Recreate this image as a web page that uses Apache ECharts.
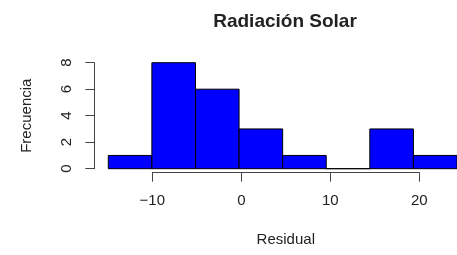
<!DOCTYPE html>
<html>
<head>
<meta charset="utf-8">
<script src="https://cdn.jsdelivr.net/npm/echarts@6/dist/echarts.min.js"></script>
<style>
  html, body { margin: 0; padding: 0; background: #fff; }
  #chart { width: 457px; height: 255px; }
</style>
</head>
<body>
<div id="chart"></div>
<script>
// histogram bins (5 wide) and counts
var binEdges = [-15, -10, -5, 0, 5, 10, 15, 20, 25]
var counts = [1, 8, 6, 3, 1, 0, 3, 1]
var xTicks = [-10, 0, 10, 20]
var yTicks = [0, 2, 4, 6, 8]

var font = 'Liberation Sans, Arial, Helvetica, sans-serif'
var ink = '#222'

var histData = counts.map(function(c, i) {
  return [binEdges[i], binEdges[i + 1], c]
})

var chart = echarts.init(document.getElementById('chart'), null, { renderer: 'canvas' })

chart.setOption({
  backgroundColor: '#fff',
  animation: false,
  title: {
    text: 'Radiación Solar',
    left: 280,
    top: 7,
    textAlign: 'center',
    textStyle: { fontFamily: font, fontSize: 19, fontWeight: 'bold', color: ink }
  },
  grid: [{
    // plot area for the bars
    left: 108.3,
    right: -7.5,
    top: 62.7,
    bottom: 86.3
  }, {
    // only used to draw the R style x axis from -10 to 20
    left: 152.3,
    right: 37.7,
    top: 62.7,
    bottom: 86.3
  }],
  xAxis: [{
    type: 'value',
    gridIndex: 0,
    min: binEdges[0],
    max: binEdges[binEdges.length - 1],
    show: false,
    axisLine: { onZero: false }
  }, {
    type: 'value',
    gridIndex: 1,
    min: xTicks[0],
    max: xTicks[xTicks.length - 1],
    interval: 10,
    offset: 4,
    name: 'Residual',
    nameLocation: 'middle',
    nameGap: 60,
    nameTextStyle: { fontFamily: font, fontSize: 15, color: ink },
    axisLine: { show: true, onZero: false, lineStyle: { color: '#444', width: 1 } },
    axisTick: { show: true, length: 9, lineStyle: { color: '#444' } },
    axisLabel: {
      fontFamily: font,
      fontSize: 15,
      color: ink,
      margin: 21,
      formatter: function(v) { return String(v).replace('-', '\u2212') }
    },
    splitLine: { show: false }
  }],
  yAxis: [{
    type: 'value',
    gridIndex: 0,
    min: yTicks[0],
    max: yTicks[yTicks.length - 1],
    interval: 2,
    offset: 14,
    name: 'Frecuencia',
    nameLocation: 'middle',
    nameGap: 60,
    nameTextStyle: { fontFamily: font, fontSize: 15, color: ink },
    axisLine: { show: true, onZero: false, lineStyle: { color: '#444', width: 1 } },
    axisTick: { show: true, length: 9, lineStyle: { color: '#444' } },
    axisLabel: { fontFamily: font, fontSize: 15, color: ink, rotate: 90, margin: 20 },
    splitLine: { show: false }
  }, {
    type: 'value',
    gridIndex: 1,
    min: 0,
    max: 1,
    show: false,
    axisLine: { onZero: false }
  }],
  series: [{
    type: 'custom',
    xAxisIndex: 0,
    yAxisIndex: 0,
    clip: false,
    data: histData,
    renderItem: function(params, api) {
      var topLeft = api.coord([api.value(0), api.value(2)])
      var bottomRight = api.coord([api.value(1), 0])
      return {
        type: 'rect',
        shape: {
          x: topLeft[0],
          y: topLeft[1],
          width: bottomRight[0] - topLeft[0],
          height: bottomRight[1] - topLeft[1]
        },
        style: { fill: '#0000ff', stroke: '#000', lineWidth: 1 }
      }
    }
  }]
})
</script>
</body>
</html>
